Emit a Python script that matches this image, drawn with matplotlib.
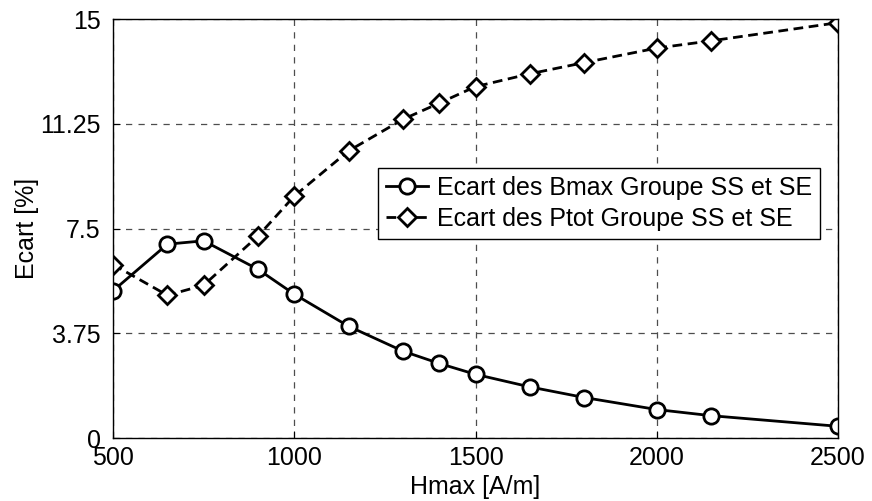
import matplotlib.pyplot as plt
import numpy as np

plt.rcParams['font.family'] = ['Liberation Sans', 'DejaVu Sans']

# Champ magnétique max [A/m]
hmax = [500, 650, 750, 900, 1000, 1150, 1300, 1400, 1500, 1650, 1800, 2000, 2150, 2500]
# Ecarts [%]
ecart_bmax = [5.27, 6.94, 7.06, 6.04, 5.15, 4.0, 3.11, 2.67, 2.28, 1.83, 1.45, 1.02, 0.80, 0.42]
ecart_ptot = [6.21, 5.11, 5.47, 7.23, 8.66, 10.28, 11.41, 11.99, 12.58, 13.04, 13.44, 13.96, 14.22, 14.87]

yticks = [0, 3.75, 7.5, 11.25, 15]
ytick_labels = ['0', '3.75', '7.5', '11.25', '15']

fs = 18

fig = plt.figure(figsize=(8.72, 5.01), dpi=100)
ax = fig.add_axes([0.1296, 0.1257, 0.8314, 0.8363])

ax.plot(hmax, ecart_bmax, '-', color='black', lw=2, marker='o', ms=11,
        mfc='white', mec='black', mew=2, label='Ecart des Bmax Groupe SS et SE')
ax.plot(hmax, ecart_ptot, '--', color='black', lw=2, marker='D', ms=9.5,
        mfc='white', mec='black', mew=2, label='Ecart des Ptot Groupe SS et SE',
        dashes=(3.5, 2))

ax.set_xlim(500, 2500)
ax.set_ylim(0, 15)
ax.set_xticks(np.arange(500, 2501, 500))
ax.set_yticks(yticks)
ax.set_yticklabels(ytick_labels)
ax.tick_params(direction='in', labelsize=fs, length=5)
ax.tick_params(axis='x', pad=6)
ax.tick_params(axis='y', pad=9)
ax.grid(True, color='0.3', linestyle=(0, (5, 5)), linewidth=0.9)
for s in ax.spines.values():
    s.set_linewidth(1.0)

ax.set_xlabel('Hmax [A/m]', fontsize=fs, labelpad=3)
ax.set_ylabel('Ecart [%]', fontsize=fs, labelpad=1)

leg = ax.legend(loc='upper left', bbox_to_anchor=(0.366, 0.644), fontsize=fs,
                frameon=True, fancybox=False, edgecolor='black', framealpha=1,
                borderpad=0.3, labelspacing=0.3, handlelength=1.7,
                handletextpad=0.35, borderaxespad=0)
leg.get_frame().set_linewidth(1.0)

fig.savefig('out.png', dpi=100)
